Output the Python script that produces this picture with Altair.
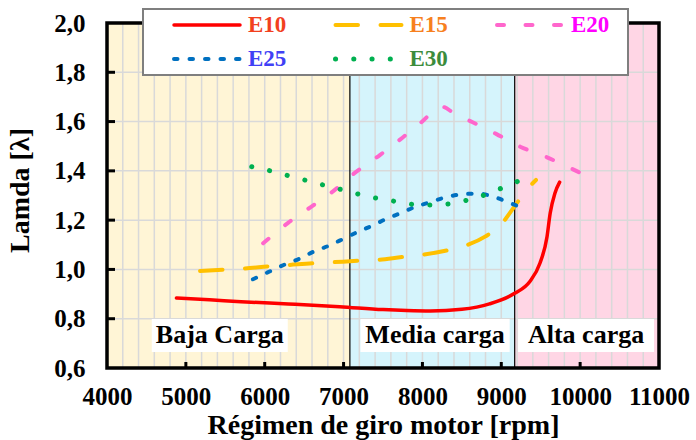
import altair as alt
import pandas as pd

FONT = "Liberation Serif"

# ---- series -------------------------------------------------------------
series_names = ["E10", "E15", "E20", "E25", "E30"]
line_colors = ["#FF0000", "#FFC000", "#FF66CC", "#0070C0", "#00B050"]
legend_text_colors = ["#F2401E", "#F7801E", "#FF00FF", "#4040F5", "#3C8C3C"]

e10_rpm = [4880, 5300, 5700, 6300, 6950, 7500, 7800, 8100, 8500, 8850, 9170,
           9360, 9490, 9580, 9620, 9680, 9740]
e10_lambda = [0.884, 0.877, 0.869, 0.860, 0.849, 0.837, 0.833, 0.831, 0.838,
              0.860, 0.903, 0.950, 1.025, 1.133, 1.228, 1.309, 1.354]

e15_rpm = [5180, 5520, 5750, 6070, 6300, 6610, 6850, 7180, 7410, 7740, 7970,
           8290, 8520, 8800, 8990, 9180, 9320, 9440]
e15_lambda = [0.994, 1.000, 1.004, 1.013, 1.018, 1.025, 1.029, 1.035, 1.038,
              1.050, 1.058, 1.076, 1.094, 1.134, 1.180, 1.261, 1.322, 1.363]

e20_rpm = [5980, 6300, 6620, 6870, 7120, 7460, 7720, 7970, 8250, 8400, 8600,
           8940, 9240, 9580, 9910, 10190]
e20_lambda = [1.106, 1.190, 1.261, 1.318, 1.386, 1.464, 1.528, 1.593, 1.660,
              1.634, 1.603, 1.549, 1.498, 1.455, 1.406, 1.363]

e25_rpm = [5850, 6030, 6240, 6430, 6620, 6810, 6990, 7170, 7360, 7540, 7720,
           7910, 8100, 8300, 8500, 8700, 8900, 9090, 9300]
e25_lambda = [0.960, 0.987, 1.018, 1.042, 1.072, 1.096, 1.123, 1.151, 1.177,
              1.205, 1.228, 1.254, 1.273, 1.293, 1.305, 1.308, 1.295, 1.272,
              1.245]

e30_rpm = [5835, 6060, 6280, 6505, 6725, 6950, 7170, 7400, 7620, 7850, 8080,
           8310, 8540, 8760, 8975, 9190, 9400]
e30_lambda = [1.417, 1.401, 1.382, 1.363, 1.344, 1.326, 1.307, 1.290, 1.278,
              1.265, 1.261, 1.265, 1.279, 1.299, 1.326, 1.355, 1.383]

all_rpm = [e10_rpm, e15_rpm, e20_rpm, e25_rpm, e30_rpm]
all_lambda = [e10_lambda, e15_lambda, e20_lambda, e25_lambda, e30_lambda]

# ---- axes, grid and load zones -------------------------------------------
x_domain = [4000, 11000]
y_domain = [0.6, 2.0]
x_label_values = [4000, 5000, 6000, 7000, 8000, 9000, 10000, 11000]
y_label_values = [0.6, 0.8, 1.0, 1.2, 1.4, 1.6, 1.8, 2.0]
x_grid = list(range(4200, 11000, 200))
y_grid = [0.8, 1.0, 1.2, 1.4, 1.6, 1.8]
x_ticks = [5000, 6000, 7000, 8000, 9000, 10000]
y_ticks = [0.8, 1.0, 1.2, 1.4, 1.6, 1.8]

zone_names = ["Baja", "Media", "Alta"]
zone_start = [4000, 7080, 9170]
zone_end = [7080, 9170, 11000]
zone_colors = ["#FFF5D6", "#D5F4FC", "#FFD6E5"]
zone_labels = ["Baja Carga", "Media carga", "Alta carga"]
zone_label_rpm = [5430, 8160, 10075]
zone_label_lambda = [0.732, 0.732, 0.732]

# ---- layout ----------------------------------------------------------------
W, H = 552, 345
PX_PER_RPM = W / (x_domain[1] - x_domain[0])
PX_PER_LAMBDA = H / (y_domain[1] - y_domain[0])

line_styles = {
    "E10": {"strokeWidth": 3.5},
    "E15": {"strokeWidth": 4, "strokeDash": [22.5, 22.5]},
    "E20": {"strokeWidth": 4, "strokeDash": [7, 21.5]},
    "E25": {"strokeWidth": 4, "strokeDash": [3.5, 12]},
    "E30": {"strokeWidth": 5, "strokeDash": [0.1, 18.15]},
}

rows = []
for name, xs, ys in zip(series_names, all_rpm, all_lambda):
    for xv, yv in zip(xs, ys):
        rows.append({"serie": name, "rpm": xv, "lamda": yv})
df = pd.DataFrame(rows)

zones = pd.DataFrame({"zona": zone_names, "inicio": zone_start,
                      "fin": zone_end})

half_h = 16.5 / PX_PER_LAMBDA
labels = pd.DataFrame({
    "texto": zone_labels,
    "rpm": zone_label_rpm,
    "lamda": zone_label_lambda,
})
labels["x0"] = [r - (len(t) * 13.2 + 4) / 2 / PX_PER_RPM
                for r, t in zip(zone_label_rpm, zone_labels)]
labels["x1"] = [r + (len(t) * 13.2 + 4) / 2 / PX_PER_RPM
                for r, t in zip(zone_label_rpm, zone_labels)]
labels["y0"] = labels["lamda"] - half_h
labels["y1"] = labels["lamda"] + half_h

x_scale = alt.Scale(domain=x_domain, nice=False, zero=False)
y_scale = alt.Scale(domain=y_domain, nice=False, zero=False)

x_axis = alt.Axis(
    values=x_label_values, format="d", ticks=False, tickSize=0, domain=False,
    grid=False, labelFlush=False, labelOverlap=False,
    labelFont=FONT, labelFontSize=25, labelFontWeight="bold",
    labelColor="black", labelPadding=16,
    title="Régimen de giro motor [rpm]", titleFont=FONT, titleFontSize=28,
    titleFontWeight="bold", titleColor="black", titleY=65,
    titleBaseline="alphabetic",
)
y_axis = alt.Axis(
    values=y_label_values, ticks=False, tickSize=0, domain=False, grid=False,
    labelFlush=False, labelOverlap=False,
    labelExpr="replace(format(datum.value, '.1f'), '.', ',')",
    labelFont=FONT, labelFontSize=25, labelFontWeight="bold",
    labelColor="black", labelPadding=22,
    title="Lamda [λ]", titleFont=FONT, titleFontSize=28,
    titleFontWeight="bold", titleColor="black",
    titleX=-87, titleY=167, titleAlign="center", titleBaseline="middle",
)


def X(field):
    return alt.X(f"{field}:Q", scale=x_scale, axis=x_axis)


def Y(field):
    return alt.Y(f"{field}:Q", scale=y_scale, axis=y_axis)


# load zones
bands = alt.Chart(zones).mark_rect().encode(
    x=X("inicio"), x2="fin",
    color=alt.Color("zona:N", scale=alt.Scale(domain=zone_names,
                                              range=zone_colors),
                    legend=None),
)

grid_v = alt.Chart(pd.DataFrame({"rpm": x_grid})).mark_rule(
    color="#D9D9D9", strokeWidth=1.5).encode(x=X("rpm"))
grid_h = alt.Chart(pd.DataFrame({"lamda": y_grid})).mark_rule(
    color="#D9D9D9", strokeWidth=1.5).encode(y=Y("lamda"))

limits = alt.Chart(pd.DataFrame({"rpm": zone_end[:-1]})).mark_rule(
    color="black", strokeWidth=1.2).encode(x=X("rpm"))

label_boxes = alt.Chart(labels).mark_rect(color="white").encode(
    x=X("x0"), x2="x1", y=Y("y0"), y2="y1")
label_text = alt.Chart(labels).mark_text(
    font=FONT, fontSize=26, fontWeight="bold", color="black",
    align="center", baseline="middle").encode(
    x=X("rpm"), y=Y("lamda"), text="texto:N")

lines = []
for name, col in zip(series_names, line_colors):
    lines.append(
        alt.Chart(df[df["serie"] == name]).mark_line(
            color=col, strokeCap="round", strokeJoin="round",
            interpolate="monotone", **line_styles[name]
        ).encode(x=X("rpm"), y=Y("lamda"))
    )

# inward ticks and plot frame
ticks_x = alt.Chart(pd.DataFrame({"rpm": x_ticks})).mark_rule(
    color="black", strokeWidth=3).encode(
    x=X("rpm"), y=alt.value(H), y2=alt.value(H - 6))
ticks_y = alt.Chart(pd.DataFrame({"lamda": y_ticks})).mark_rule(
    color="black", strokeWidth=3).encode(
    y=Y("lamda"), x=alt.value(0), x2=alt.value(8))

frame = alt.Chart(pd.DataFrame({
    "x0": [x_domain[0]], "x1": [x_domain[1]],
    "y0": [y_domain[0]], "y1": [y_domain[1]],
})).mark_rect(filled=False, color="black", strokeWidth=3.5).encode(
    x=X("x0"), x2="x1", y=Y("y0"), y2="y1")

# legend box with three columns
legend_layers = [
    alt.Chart(alt.Data(values=[{"k": 0}])).mark_rect(
        fill="white", stroke="#7F7F7F", strokeWidth=2).encode(
        x=alt.value(36), x2=alt.value(521), y=alt.value(-14),
        y2=alt.value(52))
]
for i, (name, col, tcol) in enumerate(zip(series_names, line_colors,
                                          legend_text_colors)):
    x0 = 65 + (i % 3) * 161.5
    y0 = 2 + (i // 3) * 34
    one = alt.Data(values=[{"serie": name}])
    legend_layers.append(
        alt.Chart(one).mark_rule(color=col, strokeCap="round",
                                 **line_styles[name]).encode(
            x=alt.value(x0 + 2), x2=alt.value(x0 + 68), y=alt.value(y0))
    )
    legend_layers.append(
        alt.Chart(one).mark_text(
            font=FONT, fontSize=23, fontWeight="bold", color=tcol,
            align="left", baseline="middle").encode(
            x=alt.value(x0 + 76), y=alt.value(y0), text="serie:N")
    )

chart = alt.layer(
    bands, grid_v, grid_h, limits, label_boxes, label_text, *lines,
    ticks_x, ticks_y, frame, *legend_layers
).properties(
    width=W, height=H,
    padding={"left": 107, "top": 23, "right": 37, "bottom": 72},
    autosize=alt.AutoSizeParams(type="none"),
    background="white",
).configure_view(stroke=None)

chart.save("out.html", embed_options={"renderer": "svg", "actions": False})
